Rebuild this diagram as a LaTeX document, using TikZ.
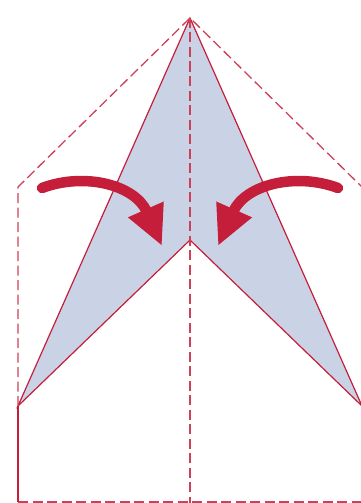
\documentclass[tikz,border=0pt]{standalone}
\usepackage{tikz}
\usetikzlibrary{arrows.meta}
\definecolor{foldred}{HTML}{C41E3A}
\definecolor{paperblue}{HTML}{CAD3E6}

\begin{document}
\begin{tikzpicture}[x=1pt, y=-1pt]
\tikzstyle{fold} = [foldred!85, line width=1.3pt, dash pattern=on 10pt off 4.5pt]
\tikzstyle{edge} = [foldred, line width=1.2pt, line join=miter]
\tikzstyle{turn} = [foldred, line width=10.5pt, line cap=round, -{Triangle[width=36pt, length=40pt]}]

\useasboundingbox (0,0) rectangle (360,503);

% Paper corners
\coordinate (top) at (190,18);
\coordinate (notch) at (190,240);
\coordinate (lwing) at (18,406);
\coordinate (rwing) at (362,406);
\coordinate (lcorner) at (18,187);
\coordinate (rcorner) at (362,187);
\coordinate (lbottom) at (18,502);
\coordinate (rbottom) at (362,502);
\coordinate (mbottom) at (190,503);

% Folded flaps
\filldraw [edge, fill=paperblue] (top) -- (lwing) -- (notch) -- (rwing) -- cycle;

% Fold lines
\draw [fold] (lwing) -- (lcorner) -- (top) -- (rcorner) -- (rwing);
\draw [fold] (top) -- (mbottom);
\draw [fold] (lbottom) -- (rbottom);
\draw [edge] (lwing) -- (lbottom);

% Arrows
\draw [turn] (42,188) .. controls (85,172) and (135,185) .. (162,246);
\draw [turn] (338,188) .. controls (295,172) and (245,185) .. (218,246);
\end{tikzpicture}
\end{document}
